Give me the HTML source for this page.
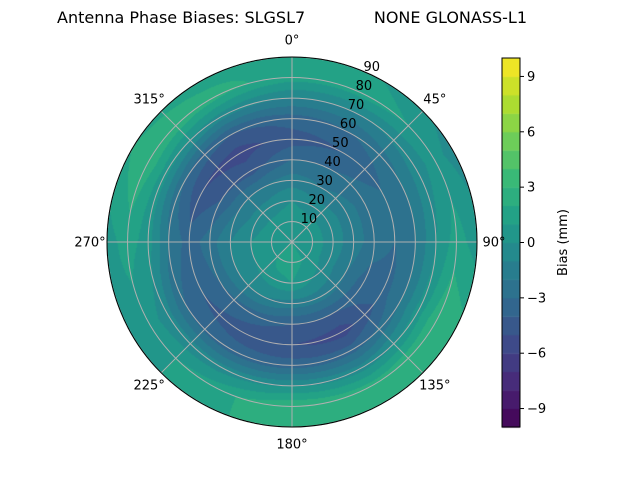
<!DOCTYPE html>
<html><head><meta charset="utf-8">
<style>
body{margin:0;background:#fff;font-family:"DejaVu Sans","Liberation Sans",sans-serif;}
#wrap{position:relative;width:640px;height:480px;overflow:hidden;}
canvas,svg{position:absolute;left:0;top:0;}
text{font-family:"DejaVu Sans","Liberation Sans",sans-serif;}
</style></head>
<body>
<div id="wrap">
<canvas id="cv" width="640" height="480"></canvas>
<svg id="sv" width="640" height="480"></svg>
</div>
<script>
const azimuths=[0,30,60,90,120,150,180,210,240,270,300,330];
const zeniths=[0,10,20,30,40,50,60,70,80,90];
const biasRows=[
[0.5,0.5,0,-1.5,-3,-4.5,-3.5,-1,1.5,2],
[0.5,0.5,-0.5,-2,-3,-4,-3,-1,1.5,1],
[0.5,0.5,-0.5,-1.5,-2.5,-3,-2,-0.5,0.5,-0.5],
[0.5,0.5,-0.5,-1.5,-2.5,-3,-2,0,1.5,0.5],
[0.5,0.5,-0.5,-2,-3.5,-3.5,-2,0.5,3,2.5],
[1,1,0,-1.5,-4,-5.5,-3.5,-0.5,2.5,2.5],
[1.5,1.5,1,-1.5,-4,-5,-3.5,0,3,3],
[1.5,1.5,0.5,-1,-3.5,-4.5,-3.5,-0.5,1.5,1.5],
[0.5,0.5,0,-1,-3,-4,-3,-0.5,0.5,0.5],
[0.5,0.5,0,-1,-2.5,-3.5,-2,0.5,1.5,0.5],
[0.5,0.5,-0.5,-2,-4,-5,-3,0.5,3,2],
[0.5,0.5,-0.5,-2,-4.5,-5.5,-4,-0.5,2.5,1.5]];
const cbTicks=[-9,-6,-3,0,3,6,9];
const radialTicks=[10,20,30,40,50,60,70,80,90];
const angleTicks=[0,45,90,135,180,225,270,315];

const CX=292,CY=242,R=185,VMIN=-10,VMAX=10,NLEV=20;
const vir=[[68,1,84],[72,40,120],[62,73,137],[49,104,142],[38,130,142],[31,158,137],[53,183,121],[110,206,88],[181,222,43],[253,231,37]];
function viridis(t){t=Math.max(0,Math.min(1,t));const p=t*9,i=Math.min(8,Math.floor(p)),f=p-i;
return vir[i].map((c,k)=>Math.round(c+(vir[i+1][k]-c)*f));}
function bandColor(v){let b=Math.floor((v-VMIN)/(VMAX-VMIN)*NLEV);b=Math.max(0,Math.min(NLEV-1,b));return viridis((b+0.5)/NLEV);}
function rOf(z){return z/90*R;}
function sample(az,z){
 const na=azimuths.length,step=360/na;
 let a=((az%360)+360)%360;const ia=Math.floor(a/step),fa=a/step-ia,ib=(ia+1)%na;
 const zs=zeniths[1]-zeniths[0];let iz=Math.min(zeniths.length-2,Math.floor(z/zs));const fz=Math.min(1,z/zs-iz);
 const v0=biasRows[ia][iz]*(1-fz)+biasRows[ia][iz+1]*fz;
 const v1=biasRows[ib][iz]*(1-fz)+biasRows[ib][iz+1]*fz;
 return v0*(1-fa)+v1*fa;}
const cv=document.getElementById('cv'),ctx=cv.getContext('2d');
const img=ctx.createImageData(640,480);
for(let y=0;y<480;y++)for(let x=0;x<640;x++){
 const dx=x+0.5-CX,dy=y+0.5-CY,r=Math.hypot(dx,dy);if(r>R)continue;
 const az=Math.atan2(dx,-dy)*180/Math.PI;const c=bandColor(sample(az,r/R*90));
 const o=(y*640+x)*4;img.data[o]=c[0];img.data[o+1]=c[1];img.data[o+2]=c[2];img.data[o+3]=255;}
ctx.putImageData(img,0,0);
const CBX=502,CBW=18,CBT=58,CBB=427;
function cbY(v){return CBB-(v-VMIN)/(VMAX-VMIN)*(CBB-CBT);}
for(let b=0;b<NLEV;b++){const v0=VMIN+b*(VMAX-VMIN)/NLEV,v1=v0+(VMAX-VMIN)/NLEV,c=viridis((b+0.5)/NLEV);
 ctx.fillStyle=`rgb(${c})`;ctx.fillRect(CBX,cbY(v1),CBW,cbY(v0)-cbY(v1)+0.5);}

const NS='http://www.w3.org/2000/svg',sv=document.getElementById('sv');
function mk(t,at,txt){const e=document.createElementNS(NS,t);for(const k in at)e.setAttribute(k,at[k]);if(txt!=null)e.textContent=txt;sv.appendChild(e);return e;}
radialTicks.forEach(z=>{const e=mk('circle',{cx:CX,cy:CY,r:rOf(z),fill:'none',stroke:'#b0b0b0','stroke-width':1});

});
angleTicks.forEach(a=>{const t=a*Math.PI/180;const e=mk('line',{x1:CX,y1:CY,x2:CX+R*Math.sin(t),y2:CY-R*Math.cos(t),stroke:'#b0b0b0','stroke-width':1});


const lr=R+17;const tx=mk('text',{x:CX+lr*Math.sin(t),y:CY-lr*Math.cos(t)+4.5,'font-size':13,'text-anchor':'middle',fill:'#000'},a+'°');

});
const rim=mk('circle',{cx:CX,cy:CY,r:R,fill:'none',stroke:'#000','stroke-width':1});


const s22=Math.sin(Math.PI/8),c22=Math.cos(Math.PI/8);
radialTicks.forEach(z=>{const r=rOf(z);const e=mk('text',{x:CX+r*s22+9,y:CY-r*c22-0,'font-size':13,'text-anchor':'middle',fill:'#000'},String(z));

});
const cbf=mk('rect',{x:CBX,y:CBT,width:CBW,height:CBB-CBT,fill:'none',stroke:'#000','stroke-width':1});


cbTicks.forEach(v=>{const y=cbY(v);mk('line',{x1:CBX+CBW,y1:y,x2:CBX+CBW+4,y2:y,stroke:'#000'});
const e=mk('text',{x:CBX+CBW+7,y:y+4.5,'font-size':13,fill:'#000'},(v<0?'\u2212'+(-v):String(v)));

});
const cbt=mk('text',{x:0,y:0,'font-size':13,'text-anchor':'middle',transform:`translate(567,${(CBT+CBB)/2}) rotate(-90)`},'Bias (mm)');


const ti=mk('text',{x:57,y:23,'font-size':16,'text-anchor':'start'},'Antenna Phase Biases: SLGSL7');


const ti2=mk('text',{x:527,y:23,'font-size':16,'text-anchor':'end'},'NONE GLONASS-L1');


</script>
</body></html>
